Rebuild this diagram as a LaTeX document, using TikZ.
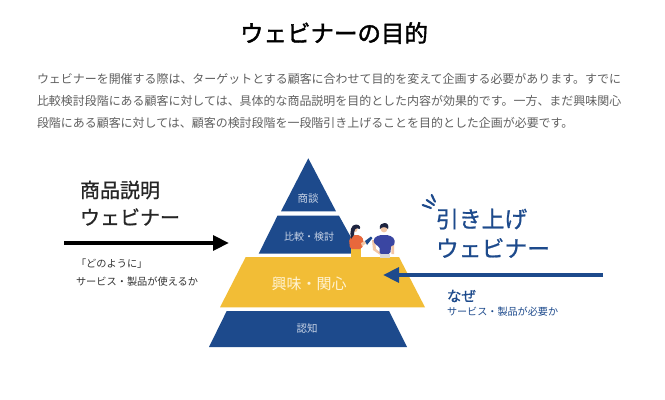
\documentclass[tikz,border=0pt]{standalone}
\usepackage{fontspec}
\setmainfont{Noto Sans CJK JP}
\newfontfamily\medfont[FakeBold=0.9]{Noto Sans CJK JP}
\newfontfamily\headfont[FakeBold=1.8]{Noto Sans CJK JP}
\usetikzlibrary{arrows.meta}
\definecolor{deepblue}{HTML}{1D4A8C}
\definecolor{band}{HTML}{F2BD36}
\definecolor{bodygray}{HTML}{606060}
\definecolor{paleblue}{HTML}{C9D4E6}
\definecolor{palegold}{HTML}{FFF3D2}
\definecolor{shirt}{HTML}{3A46A2}
\definecolor{blouse}{HTML}{E8683C}
\definecolor{skin}{HTML}{F3C6A5}
\definecolor{hair}{HTML}{1E2440}
\newcommand{\px}[1]{\fontsize{\dimexpr #1pt*3/4\relax}{\dimexpr #1pt*9/10\relax}\selectfont}
\tikzset{
  layerblue/.style={fill=deepblue,draw=none},
  layergold/.style={fill=band,draw=none},
  txt/.style={inner sep=0pt,outer sep=0pt,anchor=center},
  lefttxt/.style={inner sep=0pt,outer sep=0pt,anchor=west},
  layerlabel/.style={txt,text=paleblue},
  bigarrow/.style={line width=3.4pt,-{Triangle[length=12pt,width=11pt]}},
  spark/.style={deepblue,line width=1.6pt,line cap=round}
}
\begin{document}
\begin{tikzpicture}[x=0.75pt,y=-0.75pt]
\useasboundingbox (0,0) rectangle (665,400);
\fill[white] (0,0) rectangle (665,400);

% Heading and introduction
\node[txt,font=\px{23.5}\headfont,text=black] (title) at (334,33) {ウェビナーの目的};
\node[lefttxt,font=\px{11.96},text=bodygray] (line1) at (37,79) {ウェビナーを開催する際は、ターゲットとする顧客に合わせて目的を変えて企画する必要があります。すでに};
\node[lefttxt,font=\px{11.96},text=bodygray] (line2) at (37,101) {比較検討段階にある顧客に対しては、具体的な商品説明を目的とした内容が効果的です。一方、まだ興味関心};
\node[lefttxt,font=\px{11.96},text=bodygray] (line3) at (37,123) {段階にある顧客に対しては、顧客の検討段階を一段階引き上げることを目的とした企画が必要です。};

% Pyramid layers
\path[layerblue] (308.3,158.3) -- (336,211.3) -- (281,211.3) -- cycle;
\path[layerblue] (277.5,215.7) -- (339,215.7) -- (360,253.7) -- (258.7,253.7) -- cycle;
\path[layergold] (245.7,257) -- (399,257) -- (425,307.3) -- (220,307.3) -- cycle;
\path[layerblue] (226.7,311) -- (389,311) -- (407,347) -- (209,347) -- cycle;

\node[layerlabel,font=\px{10.5}] (talk) at (308,199) {商談};
\node[layerlabel,font=\px{10}] (compare) at (309,237) {比較・検討};
\node[txt,text=palegold,font=\px{15}] (interest) at (309,284) {興味・関心};
\node[layerlabel,font=\px{10.5}] (aware) at (307,328) {認知};

% Two figures standing on the gold layer
\fill[band] (351,247) rectangle (361,258);
\fill[blouse,rounded corners=1.5pt] (349,239) -- (353,235) -- (360,235) -- (364,240) -- (362,249) -- (350,249) -- cycle;
\fill[skin] (354.5,229) circle (3.2);
\fill[hair] (351,239) .. controls (349.5,231) and (351,224.5) .. (356,224.5) .. controls (360,224.5) and (361,228) .. (359.5,229) .. controls (356,227) and (354,229) .. (354,235) -- cycle;
\fill[skin] (361,243) -- (367,240) -- (367.5,242) -- (362,246.5) -- cycle;
\fill[deepblue] (365,241) -- (371,236.5) -- (372.5,238) -- (367,245) -- cycle;
\fill[skin] (372,240) -- (375,240) -- (376,249) -- (381,253) -- (379.5,254.5) -- (373,250) -- cycle;
\fill[skin] (391,240) -- (394,240) -- (394,254) -- (391.5,254) -- cycle;
\fill[shirt,rounded corners=1.5pt] (373,239) -- (379,235) -- (389,235) -- (395,239) -- (394,246) -- (391,245) -- (390.5,254) -- (379.5,254) -- (379.5,246) -- (375,245) -- cycle;
\fill[black!15] (380,253.5) rectangle (390,257.5);
\fill[skin] (384,229) circle (3.4);
\fill[hair] (380,229) .. controls (379,224.5) and (382,223) .. (384.5,223) .. controls (388,223) and (389,226) .. (388,229) .. controls (386,226.5) and (382,226.5) .. (380,229) -- cycle;

% Left heading, arrow and caption
\node[lefttxt,font=\px{20}\medfont,text=black!85] (leftA) at (80,190) {商品説明};
\node[lefttxt,font=\px{20}\medfont,text=black!85] (leftB) at (80,217) {ウェビナー};
\coordinate (leftStart) at (64,243);
\coordinate (leftTip) at (229,243);
\draw[bigarrow,black] (leftStart) -- (leftTip);
\node[lefttxt,font=\px{10.2},text=black!80] (leftC) at (76,264) {「どのように」};
\node[lefttxt,font=\px{10.2},text=black!80] (leftD) at (76,282) {サービス・製品が使えるか};

% Right heading, arrow and caption
\coordinate (s1a) at (422.7,205); \coordinate (s1b) at (431,208);
\coordinate (s2a) at (426.7,200); \coordinate (s2b) at (434,205);
\coordinate (s3a) at (431.7,195); \coordinate (s3b) at (435,201.7);
\draw[spark] (s1a) -- (s1b);
\draw[spark] (s2a) -- (s2b);
\draw[spark] (s3a) -- (s3b);
\node[lefttxt,font=\px{22.8}\medfont,text=deepblue] (rightA) at (436,219) {引き上げ};
\node[lefttxt,font=\px{22.8}\medfont,text=deepblue] (rightB) at (436,248) {ウェビナー};
\coordinate (rightStart) at (603,275);
\coordinate (rightTip) at (383,275);
\draw[bigarrow,deepblue] (rightStart) -- (rightTip);
\node[lefttxt,font=\px{14.5}\medfont,text=deepblue] (rightC) at (447,296) {なぜ};
\node[lefttxt,font=\px{10.1},text=deepblue] (rightD) at (447,312) {サービス・製品が必要か};
\end{tikzpicture}
\end{document}
